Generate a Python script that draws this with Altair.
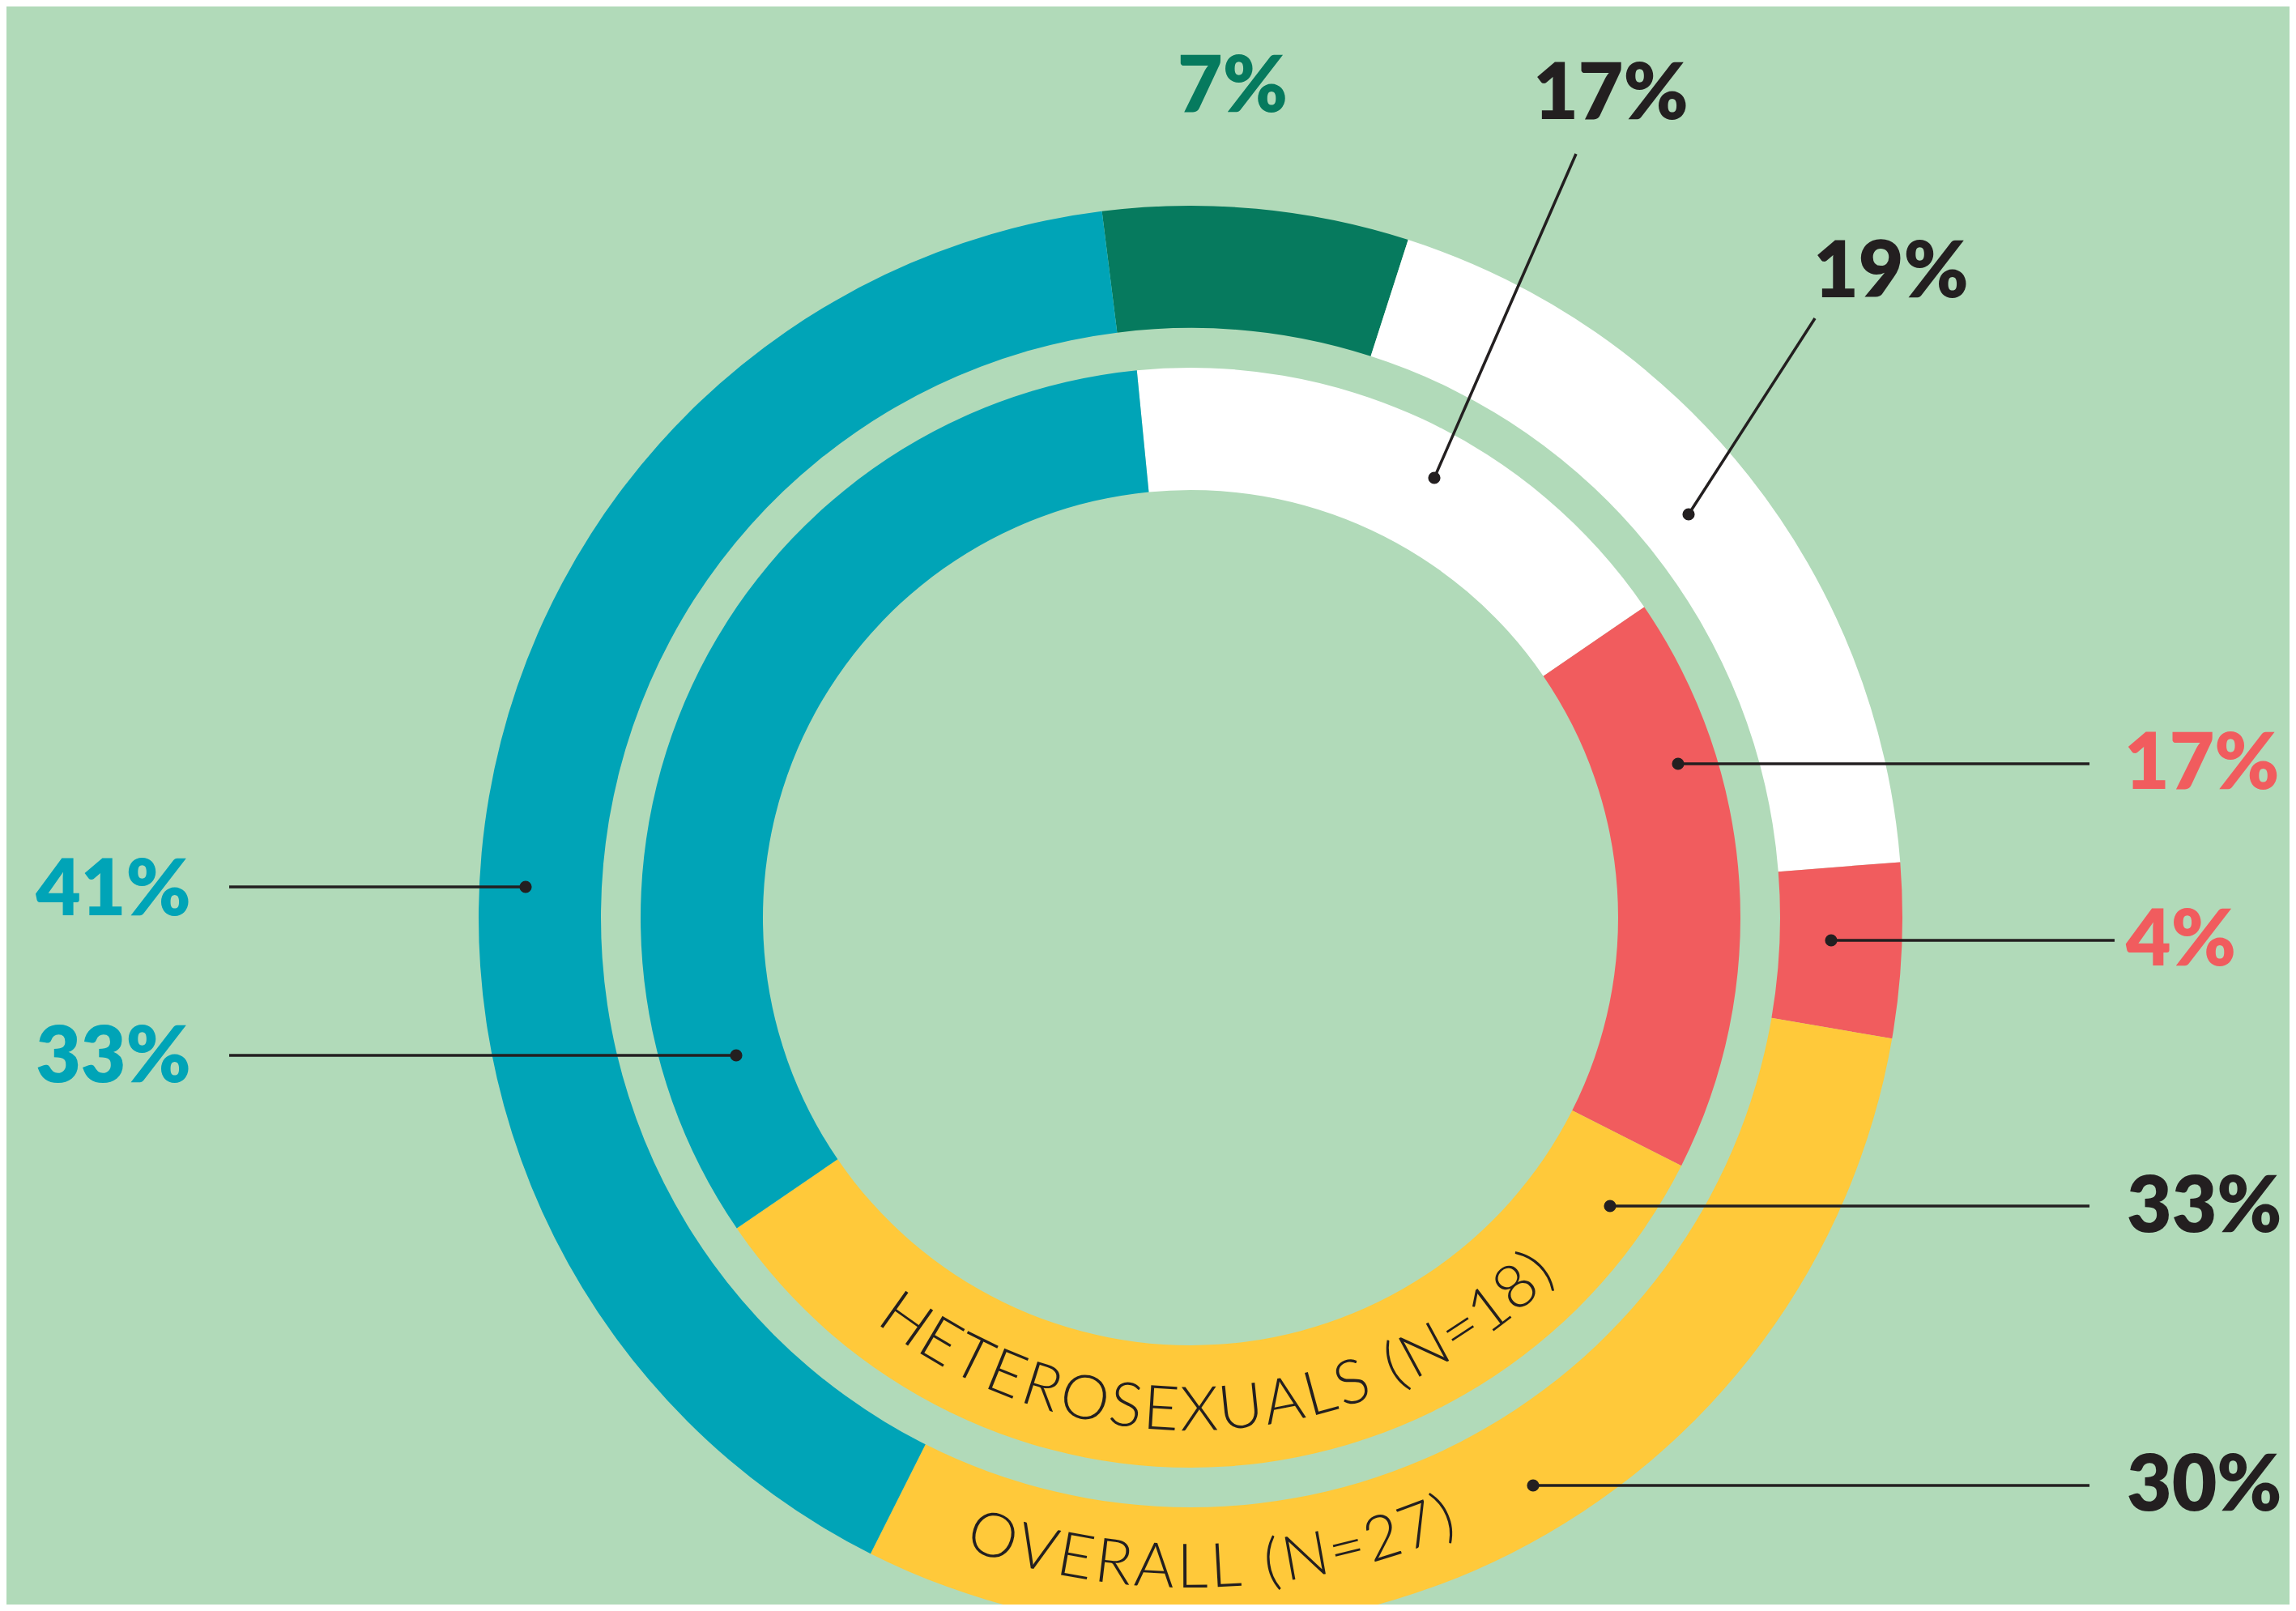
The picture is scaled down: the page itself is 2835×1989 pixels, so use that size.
import math
import altair as alt
import pandas as pd

# ---------------- data ----------------
OUTER_SEGMENTS = ["Green", "White", "Red", "Yellow", "Teal"]
OUTER_VALUES = [7, 19, 4, 30, 41]
INNER_SEGMENTS = ["White", "Red", "Yellow", "Teal"]
INNER_VALUES = [17, 17, 33, 33]
INNER_TITLE = "HETEROSEXUALS (N=18)"
OUTER_TITLE = "OVERALL (N=27)"

# ---------------- styles ----------------
BG = "#B1DAB9"
INK = "#231F20"
SEG_COLORS = {"Teal": "#00A4B7", "Green": "#067A5E", "White": "#FFFFFF",
              "Red": "#F15C5E", "Yellow": "#FFC93A"}
LABEL_COLORS = {"Teal": "#00A4B7", "Green": "#067A5E", "White": INK,
                "Red": "#F15C5E", "Yellow": INK}

# ---------------- layout ----------------
W, H = 2819, 1973
CX, CY = 1462, 1125                 # ring centre in chart pixels
OUTER_R = (879, 728)
INNER_R = (679, 528)
OUTER_START = -7.15                 # degrees, clockwise from 12 o'clock
INNER_START = -5.6


def u(xf):  # page x -> chart units (centre-relative, right positive)
    return xf - 8 - CX


def v(yf):  # page y -> chart units (centre-relative, up positive)
    return CY - (yf - 8)


# (ring, segment, dot, line end, label anchor, align)
ANNOT = [
    ("outer", "Green", None, None, (1522, 138), "center"),
    ("inner", "White", (1771, 590), (1946, 190), (1989, 147), "center"),
    ("outer", "White", (2085, 635), (2241, 393), (2335, 367), "center"),
    ("outer", "Teal", (649, 1095), (283, 1095), (140, 1130), "center"),
    ("inner", "Teal", (909, 1303), (283, 1303), (140, 1336), "center"),
    ("inner", "Red", (2072, 943), (2580, 943), (2623, 974), "left"),
    ("outer", "Red", (2261, 1161), (2611, 1161), (2625, 1192), "left"),
    ("inner", "Yellow", (1988, 1489), (2580, 1489), (2626, 1521), "left"),
    ("outer", "Yellow", (1893, 1834), (2580, 1834), (2626, 1865), "left"),
]

# ---------------- tables ----------------
outer_df = pd.DataFrame({"segment": OUTER_SEGMENTS, "value": OUTER_VALUES,
                         "k": range(len(OUTER_SEGMENTS))})
inner_df = pd.DataFrame({"segment": INNER_SEGMENTS, "value": INNER_VALUES,
                         "k": range(len(INNER_SEGMENTS))})
lookup = {"outer": dict(zip(OUTER_SEGMENTS, OUTER_VALUES)),
          "inner": dict(zip(INNER_SEGMENTS, INNER_VALUES))}

rows_lines, rows_dots, rows_labels = [], [], []
for ring, seg, dot, end, lab, align in ANNOT:
    val = lookup[ring][seg]
    if dot is not None:
        rows_dots.append({"x": u(dot[0]), "y": v(dot[1])})
        rows_lines.append({"x": u(dot[0]), "y": v(dot[1]),
                           "x2": u(end[0]), "y2": v(end[1])})
    rows_labels.append({"x": u(lab[0]), "y": v(lab[1]), "text": f"{val}%",
                        "color": LABEL_COLORS[seg], "align": align})
lines_df = pd.DataFrame(rows_lines)
dots_df = pd.DataFrame(rows_dots)
labels_df = pd.DataFrame(rows_labels)

# character advance widths (em) for the curved ring titles
ADV = {"H": .70, "E": .56, "T": .56, "R": .60, "O": .76, "S": .52, "X": .60,
       "U": .68, "A": .64, "L": .50, " ": .26, "(": .30, ")": .30, "N": .72,
       "=": .56, "1": .50, "8": .56, "2": .56, "7": .54, "V": .64}


def curve_chars(text, centre_deg, radius, font_px, tracking):
    widths = [ADV.get(c, .6) * font_px for c in text]
    total = sum(widths) + tracking * (len(text) - 1)
    pos = -total / 2
    out = []
    for c, w in zip(text, widths):
        s = pos + w / 2
        pos += w + tracking
        phi = centre_deg - math.degrees(s / radius)
        rad = math.radians(phi)
        out.append({"x": radius * math.sin(rad), "y": radius * math.cos(rad),
                    "ch": c, "rot": (phi - 180) % 360})
    return out


TITLE_FONT = 76
chars_df = pd.DataFrame(
    curve_chars(INNER_TITLE, 176.0, 610, TITLE_FONT, 3.0)
    + curve_chars(OUTER_TITLE, 178.0, 804, TITLE_FONT, 3.5)
)

# ---------------- encodings ----------------
xs = alt.Scale(domain=[-CX, W - CX], nice=False, zero=False)
ys = alt.Scale(domain=[CY - H, CY], nice=False, zero=False)
color_scale = alt.Scale(domain=list(SEG_COLORS.keys()), range=list(SEG_COLORS.values()))


def ring(df, radii, start_deg):
    a = math.radians(start_deg)
    return alt.Chart(df).mark_arc(radius=radii[0], radius2=radii[1]).encode(
        theta=alt.Theta("value:Q", stack="normalize",
                        scale=alt.Scale(range=[a, a + 2 * math.pi])),
        order=alt.Order("k:Q"),
        color=alt.Color("segment:N", scale=color_scale, legend=None),
        x=alt.value(CX),
        y=alt.value(CY),
    )


outer_ring = ring(outer_df, OUTER_R, OUTER_START)
inner_ring = ring(inner_df, INNER_R, INNER_START)

leaders = alt.Chart(lines_df).mark_rule(color=INK, strokeWidth=3.5).encode(
    x=alt.X("x:Q", scale=xs, axis=None),
    y=alt.Y("y:Q", scale=ys, axis=None),
    x2="x2:Q", y2="y2:Q",
)
dots = alt.Chart(dots_df).mark_circle(size=230, color=INK, opacity=1).encode(
    x=alt.X("x:Q", scale=xs, axis=None),
    y=alt.Y("y:Q", scale=ys, axis=None),
)


def label_layer(align):
    return alt.Chart(labels_df[labels_df["align"] == align]).mark_text(
        align=align, baseline="alphabetic", font="Lato", fontWeight=800,
        fontSize=96,
    ).encode(
        x=alt.X("x:Q", scale=xs, axis=None),
        y=alt.Y("y:Q", scale=ys, axis=None),
        text="text:N",
        color=alt.Color("color:N", scale=None),
    )


titles = alt.Chart(chars_df).mark_text(
    align="center", baseline="middle", font="Lato", fontWeight=300,
    fontSize=TITLE_FONT, color=INK,
).encode(
    x=alt.X("x:Q", scale=xs, axis=None),
    y=alt.Y("y:Q", scale=ys, axis=None),
    text="ch:N",
    angle=alt.Angle("rot:Q", scale=None),
)

chart = alt.layer(
    outer_ring, inner_ring, titles, leaders, dots,
    label_layer("center"), label_layer("left"),
).resolve_scale(
    theta="independent", color="independent"
).properties(
    width=W, height=H, background=BG, padding=0,
    autosize=alt.AutoSizeParams(type="none"),
).configure_view(strokeWidth=0)

chart.save("out.html", embed_options={"renderer": "svg", "actions": False})
